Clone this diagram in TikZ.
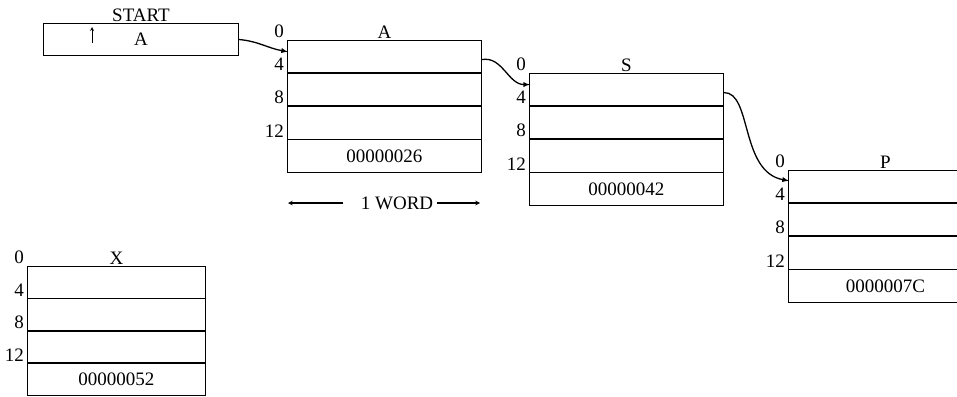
\documentclass[tikz,border=0pt]{standalone}
\usepackage{fontspec}
\setmainfont{Liberation Serif}
\usepackage{tikz}
\usetikzlibrary{arrows, positioning, calc}

\begin{document}
\begin{tikzpicture}[
    x=1pt, y=-1pt,
    every node/.style={font=\fontsize{19}{21}\selectfont},
    cell/.style={draw, rectangle, line width=0.9pt, inner sep=0pt},
    blocktitle/.style={anchor=south, inner sep=1pt},
    offset/.style={anchor=south east, inner sep=0pt, xshift=-3pt, yshift=2pt},
    link/.style={line width=1.3pt, ->, >=latex, shorten >=-1pt}
]
    \clip (0,0) rectangle (957,396);

    % pointer cell
    \node[cell, minimum width=195pt, minimum height=32pt] (start) at (141,39.5) {A};
    \node[blocktitle] (start-title) at (start.north) {START};
    \coordinate (ptr-tail) at (92,43);
    \coordinate (ptr-head) at (92,27);
    \draw[->, >=stealth, line width=0.8pt] (ptr-tail) -- (ptr-head);

    % memory blocks
    \foreach \blk/\x/\y/\w/\h/\data in {A/287/40/194/32.25/00000026, S/529/73/194/32.25/00000042, P/788/170/194/32.25/0000007C, X/27/266/178/31.5/00000052} {
        \node[cell, minimum width=\w pt, minimum height=\h pt, anchor=north west] (\blk0) at (\x,\y) {};
        \node[cell, minimum width=\w pt, minimum height=\h pt, below=0pt of \blk0] (\blk1) {};
        \node[cell, minimum width=\w pt, minimum height=\h pt, below=0pt of \blk1] (\blk2) {};
        \node[cell, minimum width=\w pt, minimum height=\h pt, below=0pt of \blk2] (\blk3) {\data};
        \node[blocktitle] (\blk-title) at (\blk0.north) {\blk};
        \foreach \i/\off in {0/0, 1/4, 2/8, 3/12}
            \node[offset] (\blk-off\i) at (\blk\i.north west) {\off};
    }

    % links
    \draw[link] (start.east) to[out=-5, in=170] ([yshift=5pt]A0.west);
    \draw[link] ([yshift=-3pt]A0.east) to[out=10, in=180] ([yshift=5pt]S0.west);
    \draw[link] ([yshift=-3pt]S0.east) .. controls (752,92) and (740,172) .. ([yshift=6pt]P0.west);

    % word width
    \node (word) at (397,203) {1 WORD};
    \coordinate (word-left) at (288,203);
    \coordinate (word-right) at (480,203);
    \draw[->, >=stealth, line width=1.1pt, shorten <=14pt] (word.west) -- (word-left);
    \draw[->, >=stealth, line width=1.1pt] (word.east) -- (word-right);
\end{tikzpicture}
\end{document}
